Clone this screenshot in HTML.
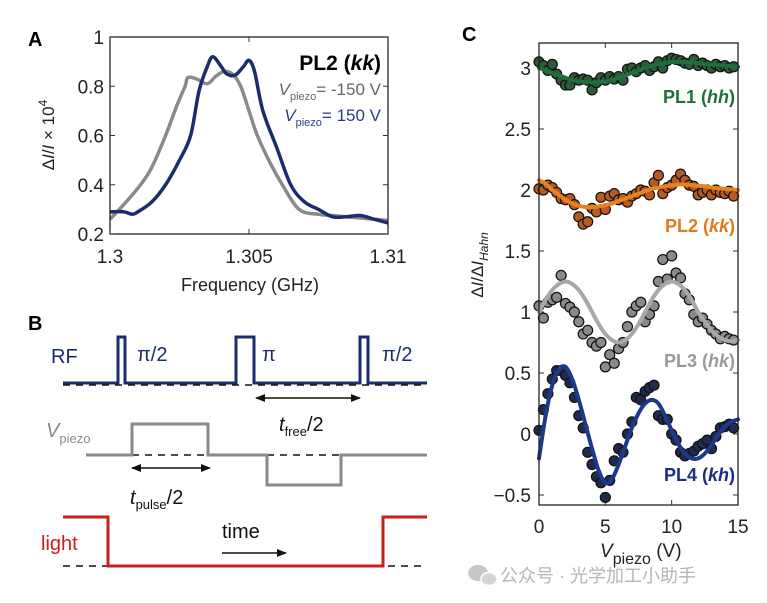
<!DOCTYPE html>
<html><head><meta charset="utf-8"><style>
html,body{margin:0;padding:0;background:#fff;}
svg{display:block;font-family:"Liberation Sans","Noto Sans CJK SC",sans-serif;}
</style></head><body>
<svg id="fig" width="767" height="603" viewBox="0 0 767 603" xmlns="http://www.w3.org/2000/svg">
<rect width="767" height="603" fill="#fff"/>
<g id="panelA"></g>
<g id="panelB"></g>
<g id="panelC"></g>
<g>
  <ellipse cx="478" cy="573" rx="10" ry="8" fill="#c8c8c8"/>
  <ellipse cx="489" cy="579" rx="8" ry="6.5" fill="#d4d4d4" stroke="#fff" stroke-width="1.5"/>
  <text x="500" y="582" font-size="18" fill="#b5b5b5">公众号 · 光学加工小助手</text>
</g>
</svg>
<script>
// ===== Panel A data =====
const freqTicks = [1.3, 1.305, 1.31];
const freqTickLabels = ["1.3", "1.305", "1.31"];
const aYTicks = [0.2, 0.4, 0.6, 0.8, 1];
const aYTickLabels = ["0.2", "0.4", "0.6", "0.8", "1"];
const blueFreq = [1.3,1.3005,1.3008,1.301,1.3015,1.302,1.3025,1.3029,1.3032,1.3035,1.3037,1.304,1.3042,1.3045,1.3048,1.305,1.3052,1.3055,1.306,1.3065,1.307,1.3075,1.308,1.3085,1.309,1.3095,1.31];
const blueVal = [0.29,0.29,0.28,0.29,0.33,0.4,0.5,0.6,0.78,0.88,0.92,0.88,0.85,0.845,0.88,0.905,0.86,0.7,0.55,0.4,0.33,0.3,0.27,0.27,0.275,0.26,0.245];
const greyFreq = [1.3,1.3005,1.3011,1.3015,1.302,1.3024,1.3027,1.3028,1.3031,1.3035,1.3038,1.3041,1.3044,1.3047,1.305,1.3053,1.3058,1.3062,1.3068,1.3075,1.308,1.309,1.3095,1.31];
const greyVal = [0.26,0.32,0.4,0.47,0.6,0.72,0.8,0.835,0.83,0.81,0.84,0.86,0.85,0.8,0.7,0.6,0.48,0.4,0.3,0.28,0.275,0.265,0.26,0.255];

// ===== Panel C data =====
const cXTicks = [0, 5, 10, 15];
const cXTickLabels = ["0", "5", "10", "15"];
const cYTicks = [-0.5, 0, 0.5, 1, 1.5, 2, 2.5, 3];
const cYTickLabels = ["\u22120.5", "0", "0.5", "1", "1.5", "2", "2.5", "3"];
const fitX = [0,0.5,1,1.5,2,2.5,3,3.5,4,4.5,5,5.5,6,6.5,7,7.5,8,8.5,9,9.5,10,10.5,11,11.5,12,12.5,13,13.5,14,14.5,15];
const pl1Fit = [3.0,2.98,2.96,2.94,2.92,2.90,2.89,2.885,2.88,2.885,2.89,2.90,2.92,2.94,2.96,2.98,3.0,3.02,3.03,3.04,3.05,3.05,3.05,3.045,3.04,3.035,3.03,3.025,3.02,3.015,3.01];
const pl2Fit = [2.08,2.05,2.0,1.96,1.92,1.89,1.87,1.86,1.86,1.865,1.875,1.89,1.91,1.93,1.95,1.97,1.99,2.01,2.02,2.03,2.04,2.045,2.045,2.04,2.035,2.03,2.02,2.015,2.01,2.005,2.0];
const pl3Fit = [1.0,1.1,1.18,1.23,1.25,1.23,1.18,1.1,1.0,0.9,0.82,0.77,0.75,0.77,0.82,0.9,1.0,1.1,1.18,1.23,1.25,1.23,1.18,1.1,1.0,0.92,0.85,0.8,0.77,0.76,0.77];
const pl4Fit = [-0.2,0.15,0.4,0.53,0.55,0.45,0.28,0.08,-0.12,-0.3,-0.4,-0.37,-0.25,-0.1,0.05,0.17,0.25,0.28,0.25,0.15,0.03,-0.08,-0.16,-0.2,-0.2,-0.16,-0.09,-0.01,0.06,0.1,0.12];
const ptX = [0,0.33,0.67,1,1.33,1.67,2,2.33,2.67,3,3.33,3.67,4,4.33,4.67,5,5.33,5.67,6,6.33,6.67,7,7.33,7.67,8,8.33,8.67,9,9.33,9.67,10,10.33,10.67,11,11.33,11.67,12,12.33,12.67,13,13.33,13.67,14,14.33,14.67];
const pl1Pts = [3.05,3.02,2.98,3.03,2.95,2.9,2.86,2.86,2.92,2.9,2.91,2.9,2.82,2.88,2.92,2.9,2.93,2.91,2.93,2.9,2.99,3.0,2.97,3.0,3.02,2.98,3.01,3.05,3.0,3.06,3.08,3.07,3.06,3.04,3.03,3.07,3.02,3.04,3.02,3.0,3.03,3.01,3.02,3.0,3.01];
const pl2Pts = [2.01,2.0,2.04,2.02,1.98,1.93,1.92,1.93,1.88,1.78,1.72,1.74,1.85,1.82,1.94,1.84,1.95,1.97,1.92,1.93,1.9,1.95,1.97,2.0,1.99,1.96,2.06,2.12,1.97,2.02,2.04,2.08,2.13,2.08,2.04,2.03,1.96,1.98,2.0,1.96,2.0,1.98,1.97,1.99,1.95];
const pl3Pts = [1.05,0.95,1.08,1.1,1.12,1.3,1.07,1.04,1.0,0.92,0.82,0.85,0.75,0.72,0.75,0.55,0.65,0.58,0.7,0.75,0.88,1.0,1.05,1.08,0.92,0.98,1.05,1.25,1.43,1.27,1.46,1.32,1.28,1.15,1.1,0.98,0.92,0.95,0.9,0.85,0.82,0.78,0.8,0.78,0.77];
const pl4Pts = [0.03,0.2,0.33,0.45,0.52,0.52,0.48,0.42,0.3,0.15,0.05,-0.15,-0.25,-0.35,-0.4,-0.52,-0.38,-0.22,-0.12,-0.15,0.0,0.1,0.3,0.28,0.35,0.38,0.4,0.15,0.12,0.12,0.0,-0.05,-0.15,-0.18,-0.16,-0.14,-0.1,-0.08,-0.05,-0.12,-0.02,0.05,0.06,0.08,0.05];

const NS = "http://www.w3.org/2000/svg";
function mk(parent, tag, attrs, text) {
  const el = document.createElementNS(NS, tag);
  for (const k in attrs) el.setAttribute(k, attrs[k]);
  if (text !== undefined) el.textContent = text;
  parent.appendChild(el);
  return el;
}
function smoothPath(pts) {
  let d = "M" + pts[0][0] + "," + pts[0][1];
  for (let i = 0; i < pts.length - 1; i++) {
    const p0 = pts[Math.max(0, i - 1)], p1 = pts[i], p2 = pts[i + 1], p3 = pts[Math.min(pts.length - 1, i + 2)];
    const c1x = p1[0] + (p2[0] - p0[0]) / 6, c1y = p1[1] + (p2[1] - p0[1]) / 6;
    const c2x = p2[0] - (p3[0] - p1[0]) / 6, c2y = p2[1] - (p3[1] - p1[1]) / 6;
    d += " C" + c1x + "," + c1y + " " + c2x + "," + c2y + " " + p2[0] + "," + p2[1];
  }
  return d;
}

// ---------- Panel A ----------
const A = document.getElementById("panelA");
const aL = 110, aR = 388, aT = 37, aB = 234;
const ax = f => aL + (f - 1.3) / 0.01 * (aR - aL);
const ay = v => aB - (v - 0.2) / 0.8 * (aB - aT);
let t = mk(A, "text", {x: 28, y: 46, "font-size": 20, "font-weight": "bold"}, "A");


const gPath = mk(A, "path", {d: smoothPath(greyFreq.map((f, i) => [ax(f), ay(greyVal[i])])), fill: "none", stroke: "#8a8a8a", "stroke-width": 3.5, "stroke-linejoin": "round"});


const bPath = mk(A, "path", {d: smoothPath(blueFreq.map((f, i) => [ax(f), ay(blueVal[i])])), fill: "none", stroke: "#1c2d6e", "stroke-width": 3.5, "stroke-linejoin": "round"});


const frame = mk(A, "rect", {x: aL, y: aT, width: aR - aL, height: aB - aT, fill: "none", stroke: "#222", "stroke-width": 1.3});


freqTicks.forEach((f, i) => {
  const tk = mk(A, "line", {x1: ax(f), x2: ax(f), y1: aB, y2: aB - 5, stroke: "#333"});
  
  
  mk(A, "line", {x1: ax(f), x2: ax(f), y1: aT, y2: aT + 5, stroke: "#333"});
  const lb = mk(A, "text", {x: ax(f), y: 263, "font-size": 19, "text-anchor": "middle", fill: "#222"}, freqTickLabels[i]);
  
  
});
aYTicks.forEach((v, i) => {
  const tk = mk(A, "line", {x1: aL, x2: aL + 5, y1: ay(v), y2: ay(v), stroke: "#333"});
  
  
  mk(A, "line", {x1: aR, x2: aR - 5, y1: ay(v), y2: ay(v), stroke: "#333"});
  const lb = mk(A, "text", {x: 104, y: ay(v) + 7, "font-size": 19, "text-anchor": "end", fill: "#222"}, aYTickLabels[i]);
  
  
});
t = mk(A, "text", {x: 381, y: 70, "font-size": 21, "font-weight": "bold", "text-anchor": "end"});
t.innerHTML = 'PL2 (<tspan font-style="italic">kk</tspan>)';


t = mk(A, "text", {x: 381, y: 95, "font-size": 17, fill: "#666", "text-anchor": "end"});
t.innerHTML = '<tspan font-style="italic">V</tspan><tspan font-size="11" dy="5">piezo</tspan><tspan dy="-5">= -150 V</tspan>';


t = mk(A, "text", {x: 381, y: 121, "font-size": 17, fill: "#2a3a88", "text-anchor": "end"});
t.innerHTML = '<tspan font-style="italic">V</tspan><tspan font-size="11" dy="5">piezo</tspan><tspan dy="-5">= 150 V</tspan>';


t = mk(A, "text", {x: 250, y: 291, "font-size": 18, "text-anchor": "middle", fill: "#222"}, "Frequency (GHz)");


t = mk(A, "text", {transform: "translate(54,135) rotate(-90)", "font-size": 17, "text-anchor": "middle", fill: "#222"});
t.innerHTML = '\u0394<tspan font-style="italic">I</tspan>/<tspan font-style="italic">I</tspan> \u00d7 10<tspan font-size="12" dy="-7">4</tspan>';



// ---------- Panel B ----------
const B = document.getElementById("panelB");
t = mk(B, "text", {x: 28, y: 330, "font-size": 20, "font-weight": "bold"}, "B");


mk(B, "line", {x1: 63, x2: 427, y1: 385, y2: 385, stroke: "#111", "stroke-width": 1.5, "stroke-dasharray": "7,6"});
const rf = mk(B, "polyline", {points: "63,383 118,383 118,337 125,337 125,383 236,383 236,337 254,337 254,383 360,383 360,337 368,337 368,383 427,383", fill: "none", stroke: "#1c2d6e", "stroke-width": 3});


t = mk(B, "text", {x: 51, y: 363, "font-size": 20, fill: "#1c2d6e"}, "RF");


[[137, "\u03c0/2"], [262, "\u03c0"], [382, "\u03c0/2"]].forEach(p => {
  const e = mk(B, "text", {x: p[0], y: 361, "font-size": 20, fill: "#1c2d6e"}, p[1]);
  
  
});
mk(B, "defs", {}).innerHTML = '<marker id="ah" markerWidth="10" markerHeight="8" refX="9" refY="4" orient="auto-start-reverse" markerUnits="userSpaceOnUse"><path d="M0,0 L10,4 L0,8 z" fill="#111"/></marker>';
const a1 = mk(B, "line", {x1: 256, x2: 360, y1: 398, y2: 398, stroke: "#111", "stroke-width": 1.5, "marker-start": "url(#ah)", "marker-end": "url(#ah)"});


t = mk(B, "text", {x: 279, y: 431, "font-size": 20, fill: "#111"});
t.innerHTML = '<tspan font-style="italic">t</tspan><tspan font-size="13" dy="5">free</tspan><tspan dy="-5">/2</tspan>';


mk(B, "line", {x1: 132, x2: 208, y1: 455, y2: 455, stroke: "#111", "stroke-width": 1.5, "stroke-dasharray": "7,6"});
mk(B, "line", {x1: 267, x2: 341, y1: 455, y2: 455, stroke: "#111", "stroke-width": 1.5, "stroke-dasharray": "7,6"});
const vp = mk(B, "polyline", {points: "86,455 132,455 132,424 208,424 208,455 267,455 267,485 341,485 341,455 427,455", fill: "none", stroke: "#8a8a8a", "stroke-width": 3});


t = mk(B, "text", {x: 46, y: 437, "font-size": 20, fill: "#8a8a8a"});
t.innerHTML = '<tspan font-style="italic">V</tspan><tspan font-size="13" dy="6">piezo</tspan>';


const a2 = mk(B, "line", {x1: 132, x2: 210, y1: 468, y2: 468, stroke: "#111", "stroke-width": 1.5, "marker-start": "url(#ah)", "marker-end": "url(#ah)"});


t = mk(B, "text", {x: 130, y: 504, "font-size": 20, fill: "#111"});
t.innerHTML = '<tspan font-style="italic">t</tspan><tspan font-size="13" dy="5">pulse</tspan><tspan dy="-5">/2</tspan>';


mk(B, "line", {x1: 63, x2: 427, y1: 566, y2: 566, stroke: "#111", "stroke-width": 1.5, "stroke-dasharray": "7,6"});
const lt = mk(B, "polyline", {points: "63,517 108,517 108,566 383,566 383,517 427,517", fill: "none", stroke: "#c8201e", "stroke-width": 3});


t = mk(B, "text", {x: 41, y: 550, "font-size": 20, fill: "#c8201e"}, "light");


t = mk(B, "text", {x: 222, y: 538, "font-size": 20, fill: "#111"}, "time");


const a3 = mk(B, "line", {x1: 222, x2: 286, y1: 553, y2: 553, stroke: "#111", "stroke-width": 1.5, "marker-end": "url(#ah)"});



// ---------- Panel C ----------
const C = document.getElementById("panelC");
const cL = 539, cR = 738, cT = 43, cB = 505;
const cx = v => cL + v / 15 * (cR - cL);
const cy = v => 434 - v * 122;
t = mk(C, "text", {x: 462, y: 41, "font-size": 20, "font-weight": "bold"}, "C");


cXTicks.forEach((v, i) => {
  const tk = mk(C, "line", {x1: cx(v), x2: cx(v), y1: cB, y2: cB - 5, stroke: "#333"});
  
  
  mk(C, "line", {x1: cx(v), x2: cx(v), y1: cT, y2: cT + 5, stroke: "#333"});
  const lb = mk(C, "text", {x: cx(v), y: 533, "font-size": 19, "text-anchor": "middle", fill: "#222"}, cXTickLabels[i]);
  
  
});
cYTicks.forEach((v, i) => {
  const tk = mk(C, "line", {x1: cL, x2: cL + 5, y1: cy(v), y2: cy(v), stroke: "#333"});
  
  
  mk(C, "line", {x1: cR, x2: cR - 5, y1: cy(v), y2: cy(v), stroke: "#333"});
  const lb = mk(C, "text", {x: 531, y: cy(v) + 7, "font-size": 19, "text-anchor": "end", fill: "#222"}, cYTickLabels[i]);
  
  
});
const series = [
  {fit: pl1Fit, pts: pl1Pts, line: "#1e6e3e", dot: "#2e5a38", name: "pl1"},
  {fit: pl2Fit, pts: pl2Pts, line: "#e8821e", dot: "#b85a26", name: "pl2"},
  {fit: pl3Fit, pts: pl3Pts, line: "#a8a8a8", dot: "#8a8a8a", name: "pl3"},
  {fit: pl4Fit, pts: pl4Pts, line: "#1c3a8a", dot: "#1f2a4e", name: "pl4"}
];
series.forEach(s => {
  const g = mk(C, "g", {});
  
  
  s.pts.forEach((v, i) => {
    const c = mk(g, "circle", {cx: cx(ptX[i]), cy: cy(v), r: 5, fill: s.dot, stroke: "#111", "stroke-width": 1.2});
    
    
  });
  const p = mk(C, "path", {d: smoothPath(fitX.map((x, i) => [cx(x), cy(s.fit[i])])), fill: "none", stroke: s.line, "stroke-width": 4, "stroke-linecap": "round"});
  
  
});
const cf = mk(C, "rect", {x: cL, y: cT, width: cR - cL, height: cB - cT, fill: "none", stroke: "#222", "stroke-width": 1.3});


[["PL1 (", "hh", ")", 103, "#1e6e3e", "pl1-label"], ["PL2 (", "kk", ")", 232, "#e07a1e", "pl2-label"], ["PL3 (", "hk", ")", 367, "#9a9a9a", "pl3-label"], ["PL4 (", "kh", ")", 481, "#1c2d7e", "pl4-label"]].forEach(l => {
  const e = mk(C, "text", {x: 735, y: l[3], "font-size": 18, "font-weight": "bold", "text-anchor": "end", fill: l[4]});
  e.innerHTML = l[0] + '<tspan font-style="italic">' + l[1] + '</tspan>' + l[2];
  
  
});
t = mk(C, "text", {x: 600, y: 557, "font-size": 19, fill: "#222"});
t.innerHTML = '<tspan font-style="italic">V</tspan><tspan font-size="16" dy="7">piezo</tspan><tspan dy="-7"> (V)</tspan>';


t = mk(C, "text", {transform: "translate(483,265) rotate(-90)", "font-size": 17, "text-anchor": "middle", fill: "#222"});
t.innerHTML = '\u0394<tspan font-style="italic">I</tspan>/\u0394<tspan font-style="italic">I</tspan><tspan font-size="12" font-style="italic" dy="5">Hahn</tspan>';


</script>
</body></html>
